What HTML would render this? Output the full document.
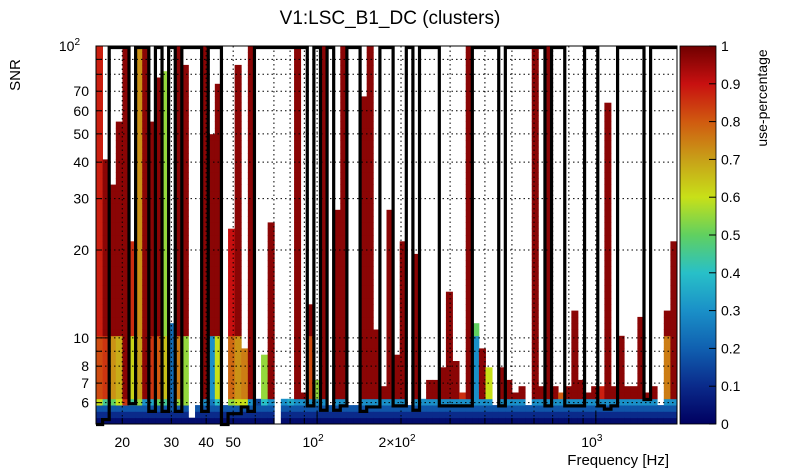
<!DOCTYPE html>
<html><head><meta charset="utf-8"><style>
html,body{margin:0;padding:0;background:#fff;}
svg{display:block;font-family:"Liberation Sans",sans-serif;}
</style></head><body>
<svg id="chart" width="805" height="472" viewBox="0 0 805 472" xmlns="http://www.w3.org/2000/svg">
<defs>
<linearGradient id="pal" x1="0" y1="1" x2="0" y2="0">
<stop offset="0" stop-color="#000060"/><stop offset="0.1" stop-color="#0a2a8a"/><stop offset="0.2" stop-color="#1060b0"/><stop offset="0.3" stop-color="#1a90c8"/><stop offset="0.4" stop-color="#28c0c8"/><stop offset="0.5" stop-color="#60d060"/><stop offset="0.6" stop-color="#c8e018"/><stop offset="0.7" stop-color="#c8a018"/><stop offset="0.8" stop-color="#d05a10"/><stop offset="0.9" stop-color="#c81010"/><stop offset="1" stop-color="#700000"/>
</linearGradient>
</defs>
<text x="390" y="24" font-size="19" text-anchor="middle">V1:LSC_B1_DC (clusters)</text>
<g id="cells"></g>
<g id="grid"></g>
<path id="outline" fill="none" stroke="#000" stroke-width="3.2"/>
<rect x="96" y="46" width="581" height="378" fill="none" stroke="#000" stroke-width="1"/>
<g id="axes"></g>
<text transform="translate(20,75) rotate(-90)" font-size="15" text-anchor="middle">SNR</text>
<text x="669" y="465" font-size="15" text-anchor="end">Frequency [Hz]</text>
<rect x="680" y="46" width="36" height="378" fill="url(#pal)"/>
<g id="cbar"></g>
<text transform="translate(767,98) rotate(-90)" font-size="14" text-anchor="middle">use-percentage</text>
</svg>
<script>
const colTop = [100,40.7,33.5,55,100,21,100,98,55,78, 80,11.2,100,85,5.3,5.9,100,50,75,5.9, 24,85,9.2,100,6.2,8.8,24.8,0,6.1,6.1, 100,6.5,13,7.2,100,5.9,27.5,100,5.9,5.9, 67,100,10.6,6.9,27.5,8.8,21,5.9,19.5,6.2, 7.2,7.2,7.9,14.3,8.4,6.5,100,11.2,9.2,7.9, 5.9,7.9,7.2,6.5,6.9,5.9,100,6.9,100,6.9, 6.5,6.9,12.4,7.2,6.5,6.9,6.9,64,6.9,10.2, 6.9,6.9,11.8,6.5,6.9,5.9,12.4,21];
const colVal = [.88,.97,.97,.97,.97,.86,.72,.97,.97,.97, .55,.22,.97,.97,.05,.1,.97,.97,.97,.97, .9,.97,.97,.97,.97,.97,.97,.97,.97,.97, .97,.97,.97,.55,.97,.97,.97,.97,.97,.97, .97,.97,.97,.97,.97,.97,.97,.97,.97,.97, .97,.97,.97,.97,.97,.86,.97,.5,.97,.97, .97,.97,.97,.97,.97,.97,.97,.97,.97,.97, .8,.97,.97,.97,.97,.97,.88,.97,.97,.97, .97,.97,.97,.97,.97,.97,.97,.97];
const midVal = [.82,.85,.72,.68,.97,.62,.7,.97,.85,.8, .65,.22,.75,.55,.05,.1,.97,.3,.6,.97, .78,.72,.75,.97,.97,.55,.97,.97,.97,.97, .97,.97,.82,.55,.97,.97,.97,.97,.97,.97, .97,.97,.97,.97,.97,.97,.97,.97,.97,.6, .97,.97,.97,.97,.97,.86,.97,.3,.97,.6, .97,.97,.97,.97,.97,.97,.97,.97,.97,.97, .8,.97,.97,.97,.97,.97,.88,.97,.97,.97, .97,.97,.97,.97,.97,.97,.75,.97];
const lowVal = [.6,.45,.5,.6,.85,.45,.55,.3,.35,.5, .45,.2,.55,.55,.05,.2,.3,.25,.4,.1, .55,.6,.6,.3,.15,.4,.3,0,.3,.35, .3,.3,.3,.3,.3,.3,.3,.3,.3,.3, .3,.3,.3,.3,.3,.3,.3,.3,.3,.3, .3,.3,.3,.3,.3,.3,.3,.3,.3,.3, .3,.3,.3,.3,.3,.3,.3,.3,.3,.3, .3,.3,.3,.3,.3,.3,.3,.3,.3,.3, .3,.3,.3,.3,.3,.3,.3,.3];
const baseRows = [.03,.1,.18];
const thresh = [5.05,5.25,100,100,100,5.95,100,100,5.6,100, 5.6,100,5.6,100,100,100,5.6,100,100,5.05, 5.5,5.5,5.8,5.6,100,100,100,100,100,100, 100,100,5.85,100,5.65,100,5.65,5.85,100,100, 5.6,5.8,5.8,100,100,5.85,5.85,100,5.65,100, 100,100,5.85,5.85,5.85,5.85,5.85,100,100,100, 100,5.85,100,100,100,100,100,100,5.85,100, 100,5.85,5.85,5.85,100,100,5.85,5.7,5.85,100, 100,100,100,6.15,100,100,100,100];
const yTickVals = [6,7,8,9,10,20,30,40,50,60,70,80,90,100];
const yTickLabels = {6:"6",7:"7",8:"8",10:"10",20:"20",30:"30",40:"40",50:"50",60:"60",70:"70"};
const xGridVals = [20,30,40,50,60,70,80,90,100,200,300,400,500,600,700,800,900,1000];
const xTickLabels = [[20,"20"],[30,"30"],[40,"40"],[50,"50"]];
const cbTicks = [0,0.1,0.2,0.3,0.4,0.5,0.6,0.7,0.8,0.9,1];

const NS="http://www.w3.org/2000/svg";
const X0=96,X1=677,Y0=424,Y1=46;
const XMIN=16.1,XMAX=1955,YMIN=5.07,YMAX=100,NROWS=60;
function xs(f){return X0+(Math.log10(f)-Math.log10(XMIN))/(Math.log10(XMAX)-Math.log10(XMIN))*(X1-X0);}
function ys(s){return Y0-(Math.log10(s)-Math.log10(YMIN))/(Math.log10(YMAX)-Math.log10(YMIN))*(Y0-Y1);}
const stops=[[0,[0,0,96]],[.1,[10,42,138]],[.2,[16,96,176]],[.3,[26,144,200]],[.4,[40,192,200]],[.5,[96,208,96]],[.6,[200,224,24]],[.7,[200,160,24]],[.8,[208,90,16]],[.9,[200,16,16]],[1,[112,0,0]]];
function col(v){v=Math.max(0,Math.min(1,v));for(let i=1;i<stops.length;i++){if(v<=stops[i][0]){const a=stops[i-1],b=stops[i];const t=(v-a[0])/(b[0]-a[0]);const c=a[1].map((q,k)=>Math.round(q+(b[1][k]-q)*t));return `rgb(${c[0]},${c[1]},${c[2]})`;}}return "rgb(112,0,0)";}
function mk(tag,attrs,parent){const e=document.createElementNS(NS,tag);for(const k in attrs)e.setAttribute(k,attrs[k]);parent.appendChild(e);return e;}

const ncol=colTop.length;
const lx=Math.log10(XMIN),dx=(Math.log10(XMAX)-lx)/ncol;
const ly=Math.log10(YMIN),dy=(Math.log10(YMAX)-ly)/NROWS;
const cells=document.getElementById('cells');
for(let c=0;c<ncol;c++){
  const xa=xs(Math.pow(10,lx+c*dx)),xb=xs(Math.pow(10,lx+(c+1)*dx));
  for(let r=0;r<NROWS;r++){
    const lo=Math.pow(10,ly+r*dy),hi=Math.pow(10,ly+(r+1)*dy),mid=Math.sqrt(lo*hi);
    if(mid>colTop[c])break;
    let v;
    if(r<3)v=baseRows[r];else if(r===3)v=lowVal[c];else if(mid<10)v=midVal[c];else v=colVal[c];
    const e=mk('rect',{x:xa.toFixed(2),y:ys(hi).toFixed(2),width:(xb-xa+0.4).toFixed(2),height:(ys(lo)-ys(hi)+0.4).toFixed(2),fill:col(v)},cells);
    
    
  }
}
// grid
const grid=document.getElementById('grid');
yTickVals.forEach(v=>{if(v>=100)return;const y=ys(v);const l=mk('line',{x1:X0,x2:X1,y1:y,y2:y,stroke:'#000','stroke-width':1,'stroke-dasharray':'1.5,3'},grid);

});
xGridVals.forEach(v=>{const x=xs(v);const l=mk('line',{x1:x,x2:x,y1:Y1,y2:Y0,stroke:'#000','stroke-width':1,'stroke-dasharray':'1.5,3'},grid);

});
// outline
function ty(t){return Math.max(Y1+1.5,ys(t));}
let d=`M${xs(Math.pow(10,lx))},${ty(thresh[0])}`;
for(let c=0;c<ncol;c++){const xb=xs(Math.pow(10,lx+(c+1)*dx));d+=` H${xb.toFixed(2)}`;if(c+1<ncol)d+=` V${ty(thresh[c+1]).toFixed(2)}`;}
document.getElementById('outline').setAttribute('d',d);
// axes
const ax=document.getElementById('axes');
yTickVals.forEach(v=>{const y=ys(v);const big=(v===10||v===100);const l=mk('line',{x1:X0,x2:X0+(big?12:6),y1:y,y2:y,stroke:'#000'},ax);


if(yTickLabels[v]){const t=mk('text',{x:89,y:y+5,'font-size':14,'text-anchor':'end'},ax);t.textContent=yTickLabels[v];

}});
const t100=mk('text',{x:80,y:ys(100)+5,'font-size':14,'text-anchor':'end'},ax);t100.innerHTML='10<tspan dy="-6" font-size="10">2</tspan>';


xGridVals.forEach(v=>{const x=xs(v);const big=(v===100||v===1000);const l=mk('line',{x1:x,x2:x,y1:Y0,y2:Y0-(big?12:6),stroke:'#000'},ax);

});
xTickLabels.forEach(p=>{const t=mk('text',{x:xs(p[0]),y:447,'font-size':14,'text-anchor':'middle'},ax);t.textContent=p[1];

});
[[100,'10','2',''],[200,'2×10','2',''],[1000,'10','3','']].forEach(p=>{const t=mk('text',{x:xs(p[0])-4,y:447,'font-size':14,'text-anchor':'middle'},ax);t.innerHTML=p[1]+'<tspan dy="-6" font-size="10">'+p[2]+'</tspan>';

});
// colorbar
const cb=document.getElementById('cbar');
mk('rect',{x:680,y:46,width:36,height:378,fill:'none',stroke:'#000','stroke-width':0.8},cb);
cbTicks.forEach(v=>{const y=424-v*378;const l=mk('line',{x1:716,x2:709,y1:y,y2:y,stroke:'#000'},cb);


const t=mk('text',{x:721,y:y+5,'font-size':14},cb);t.textContent=String(v);

});
</script>
</body></html>
